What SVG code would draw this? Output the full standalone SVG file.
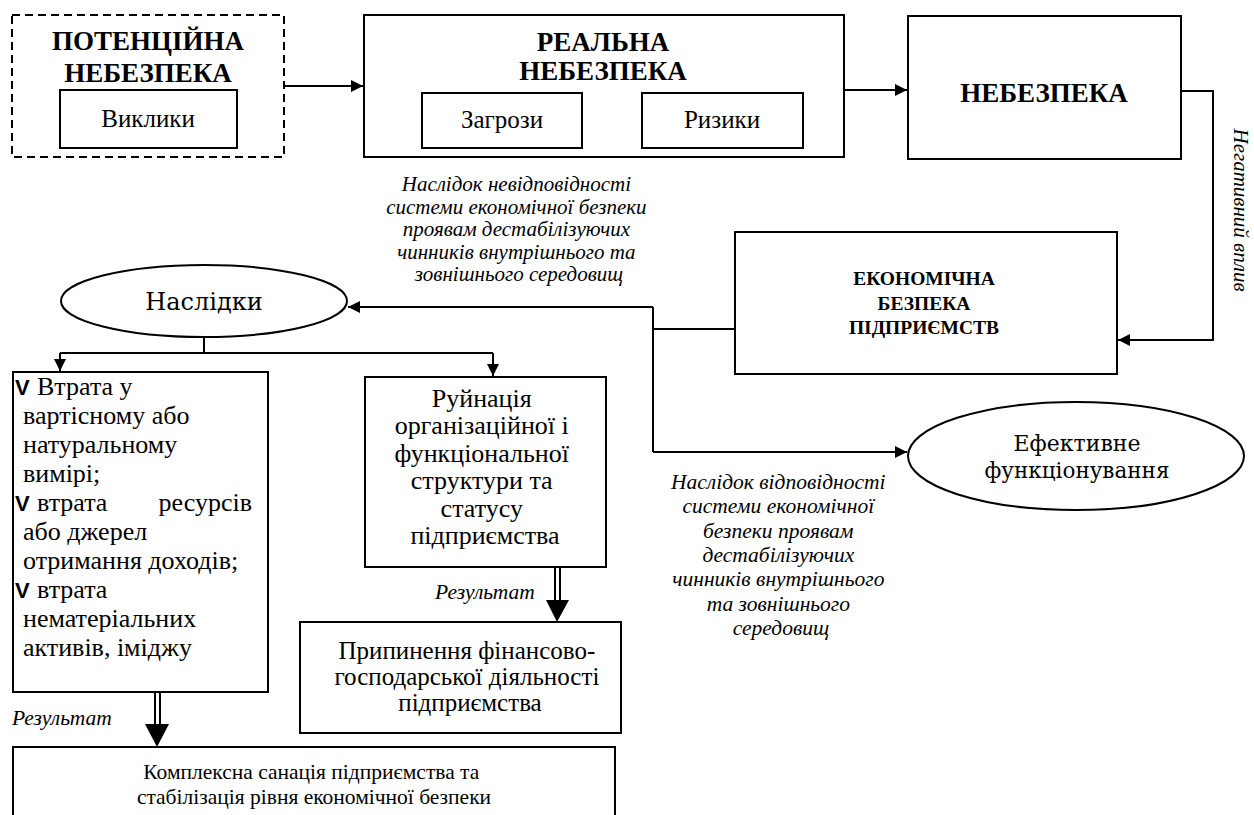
<svg xmlns="http://www.w3.org/2000/svg" width="1254" height="815" viewBox="0 0 1254 815">
<style>
.box{fill:#fff;stroke:#000;stroke-width:2}
.dash{fill:#fff;stroke:#000;stroke-width:2;stroke-dasharray:8 5}
.ln{fill:none;stroke:#000;stroke-width:2}
.b{font-weight:bold}
.i{font-style:italic}
.c{text-anchor:middle}
.cam{font-family:'DejaVu Serif',serif}
.chk{font-family:'Liberation Sans',sans-serif;font-weight:bold;font-size:22px}
</style>
<defs>
<marker id="ah" markerWidth="12" markerHeight="12" refX="12" refY="6" orient="auto" markerUnits="userSpaceOnUse">
<path d="M0,0 L12,6 L0,12 Z" fill="#000"/>
</marker>
</defs>

<g id="connectors">
<path class="ln" d="M285,86 H363" marker-end="url(#ah)"/>
<path class="ln" d="M844,90 H907" marker-end="url(#ah)"/>
<path class="ln" d="M1181,91 H1213 V340 H1118" marker-end="url(#ah)"/>
<path class="ln" d="M735,329 H653"/>
<path class="ln" d="M653,307 V452"/>
<path class="ln" d="M653,307 H348" marker-end="url(#ah)"/>
<path class="ln" d="M653,452 H907" marker-end="url(#ah)"/>
<path class="ln" d="M204,337 V353"/>
<path class="ln" d="M60,353 H493"/>
<path class="ln" d="M60,353 V371" marker-end="url(#ah)"/>
<path class="ln" d="M493,353 V376" marker-end="url(#ah)"/>
<path class="ln" d="M155,693 V724 M160,693 V724" stroke-width="1.5"/>
<path d="M145,724 H169 L157,747 Z" fill="#000"/>
<path class="ln" d="M555,567 V600 M560,567 V600" stroke-width="1.5"/>
<path d="M546,600 H569 L557,622 Z" fill="#000"/>
</g>

<g font-family="Liberation Serif, Times New Roman, serif" fill="#000">
<g id="potential">
<rect class="dash" x="12" y="15" width="272" height="142"/>
<text class="b c" x="148" y="50" font-size="27">ПОТЕНЦІЙНА</text>
<text class="b c" x="148" y="82" font-size="27">НЕБЕЗПЕКА</text>
<rect class="box" x="60" y="90" width="177" height="58"/>
<text class="c" x="148" y="127" font-size="25">Виклики</text>
</g>

<g id="real">
<rect class="box" x="364" y="15" width="480" height="142"/>
<text class="b c" x="603" y="51" font-size="27">РЕАЛЬНА</text>
<text class="b c" x="603" y="80" font-size="27">НЕБЕЗПЕКА</text>
<rect class="box" x="422" y="93" width="160" height="55"/>
<text class="c" x="502" y="128" font-size="25">Загрози</text>
<rect class="box" x="642" y="93" width="161" height="55"/>
<text class="c" x="722" y="128" font-size="25">Ризики</text>
</g>

<g id="danger">
<rect class="box" x="908" y="16" width="273" height="143"/>
<text class="b c" x="1044" y="102" font-size="27">НЕБЕЗПЕКА</text>
</g>

<g id="negative-label">
<text class="i c" transform="translate(1234,210) rotate(90)" font-size="21">Негативний вплив</text>
</g>

<g id="mismatch-label">
<text class="i c" font-size="21">
<tspan x="519" y="191">Наслідок невідповідності</tspan>
<tspan x="519" y="213.5">системи економічної безпеки</tspan>
<tspan x="519" y="236">проявам дестабілізуючих</tspan>
<tspan x="519" y="258.5">чинників внутрішнього та</tspan>
<tspan x="519" y="281">зовнішнього середовищ</tspan>
</text>
</g>

<g id="economic-security">
<rect class="box" x="735" y="232" width="382" height="142"/>
<text class="b c" x="924" y="285" font-size="19.5">ЕКОНОМІЧНА</text>
<text class="b c" x="924" y="310" font-size="19.5">БЕЗПЕКА</text>
<text class="b c" x="924" y="334" font-size="19.5">ПІДПРИЄМСТВ</text>
</g>

<g id="consequences">
<ellipse class="box" cx="204" cy="301" rx="143" ry="36"/>
<text class="c cam" x="204" y="310" font-size="24">Наслідки</text>
</g>

<g id="effective">
<ellipse class="box" cx="1076" cy="456" rx="168" ry="54"/>
<text class="c cam" x="1077" y="451" font-size="22">Ефективне</text>
<text class="c cam" x="1077" y="478" font-size="21.5">функціонування</text>
</g>

<g id="match-label">
<text class="i c" font-size="21.5">
<tspan x="781" y="489">Наслідок відповідності</tspan>
<tspan x="781" y="513">системи економічної</tspan>
<tspan x="781" y="538">безпеки проявам</tspan>
<tspan x="781" y="562">дестабілізуючих</tspan>
<tspan x="781" y="586">чинників внутрішнього</tspan>
<tspan x="781" y="611">та зовнішнього</tspan>
<tspan x="781" y="635">середовищ</tspan>
</text>
</g>

<g id="losses">
<rect class="box" x="13" y="372" width="255" height="320"/>
<text class="chk" x="15" y="395">V</text>
<text x="37" y="395" font-size="26">Втрата у</text>
<text x="23" y="424" font-size="26">вартісному або</text>
<text x="23" y="453" font-size="26">натуральному</text>
<text x="23" y="482" font-size="26">вимірі;</text>
<text class="chk" x="15" y="511">V</text>
<text x="37" y="511" font-size="26">втрата</text>
<text x="252" y="511" font-size="26" text-anchor="end">ресурсів</text>
<text x="23" y="540" font-size="26">або джерел</text>
<text x="23" y="569" font-size="26">отримання доходів;</text>
<text class="chk" x="15" y="598">V</text>
<text x="37" y="598" font-size="26">втрата</text>
<text x="23" y="627" font-size="26">нематеріальних</text>
<text x="23" y="656" font-size="26">активів, іміджу</text>
</g>

<g id="destruction">
<rect class="box" x="365" y="377" width="241" height="190"/>
<text class="c" font-size="26">
<tspan x="485" y="407">Руйнація</tspan>
<tspan x="485" y="434">організаційної і</tspan>
<tspan x="485" y="462">функціональної</tspan>
<tspan x="485" y="489">структури та</tspan>
<tspan x="485" y="517">статусу</tspan>
<tspan x="485" y="544">підприємства</tspan>
</text>
</g>

<g id="result-right">
<text class="i c" x="485" y="599" font-size="21.5">Результат</text>
</g>

<g id="termination">
<rect class="box" x="300" y="622" width="321" height="111"/>
<text class="c" font-size="25">
<tspan x="470" y="659">Припинення фінансово-</tspan>
<tspan x="470" y="685">господарської діяльності</tspan>
<tspan x="470" y="711">підприємства</tspan>
</text>
</g>

<g id="result-left">
<text class="i" x="12" y="725" font-size="21.5">Результат</text>
</g>

<g id="sanation">
<rect class="box" x="13" y="747" width="602" height="80"/>
<text class="c" font-size="21.5">
<tspan x="314" y="779">Комплексна санація підприємства та</tspan>
<tspan x="314" y="804">стабілізація рівня економічної безпеки</tspan>
</text>
</g>
</g>
</svg>
